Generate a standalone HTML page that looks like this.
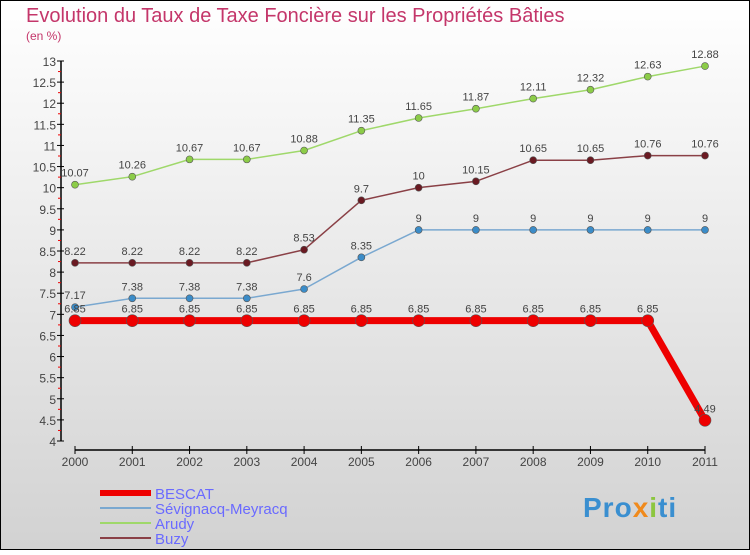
<!DOCTYPE html>
<html><head><meta charset="utf-8"><style>
body{margin:0}
#c{width:750px;height:550px;position:relative;font-family:"Liberation Sans",sans-serif;}
</style></head><body>
<div id="c">
<svg id="s" width="750" height="550" xmlns="http://www.w3.org/2000/svg">
<defs><linearGradient id="bg" x1="0" y1="0" x2="0" y2="1"><stop offset="0" stop-color="#ffffff"/><stop offset="1" stop-color="#d2d2d2"/></linearGradient></defs>
<rect x="0.5" y="0.5" width="749" height="549" fill="url(#bg)" stroke="#000"/>
<text x="26" y="22" font-size="20" fill="#c4366a">Evolution du Taux de Taxe Foncière sur les Propriétés Bâties</text>
<text x="26" y="40" font-size="12" fill="#c4366a">(en %)</text>
<g id="axes"></g><g id="series"></g><g id="legend"></g>
<g>
<text x="583" y="517" font-size="28" font-weight="bold" fill="#3a8fd0" letter-spacing="1">Pro<tspan fill="#f08a1c">x</tspan><tspan fill="#8cc63f">i</tspan>ti</text>
</g>
</svg></div>
<script>
const years=[2000,2001,2002,2003,2004,2005,2006,2007,2008,2009,2010,2011];
const bescat=[6.85,6.85,6.85,6.85,6.85,6.85,6.85,6.85,6.85,6.85,6.85,4.49];
const sevignacq=[7.17,7.38,7.38,7.38,7.6,8.35,9,9,9,9,9,9];
const arudy=[10.07,10.26,10.67,10.67,10.88,11.35,11.65,11.87,12.11,12.32,12.63,12.88];
const buzy=[8.22,8.22,8.22,8.22,8.53,9.7,10,10.15,10.65,10.65,10.76,10.76];
const yTicks=[4,4.5,5,5.5,6,6.5,7,7.5,8,8.5,9,9.5,10,10.5,11,11.5,12,12.5,13];
const NS="http://www.w3.org/2000/svg";
function x(i){return 75+i*(630/11);}
function y(v){return 441-(v-4)*(380/9);}
function mk(t,a,p){const e=document.createElementNS(NS,t);for(const k in a)e.setAttribute(k,a[k]);p.appendChild(e);return e;}
const ax=document.getElementById('axes');
let l=mk('line',{x1:61,y1:y(13),x2:61,y2:y(4),stroke:'#000','stroke-width':1.5},ax);


yTicks.forEach(v=>{
 mk('line',{x1:57,y1:y(v),x2:64,y2:y(v),stroke:'#000'},ax);
 mk('line',{x1:58,y1:y(v+0.25),x2:61,y2:y(v+0.25),stroke:v<13?'#e00':'none'},ax);
 const t=mk('text',{x:56,y:y(v)+5,'text-anchor':'end','font-size':12,fill:'#444'},ax);
 t.textContent=String(v);
 
 
});
l=mk('line',{x1:75,y1:450,x2:705,y2:450,stroke:'#000','stroke-width':1.5},ax);


years.forEach((yr,i)=>{
 mk('line',{x1:x(i),y1:446,x2:x(i),y2:454,stroke:'#000'},ax);
 const t=mk('text',{x:x(i),y:466,'text-anchor':'middle','font-size':12,fill:'#444'},ax);
 t.textContent=String(yr);
 
 
});
const sg=document.getElementById('series');
function series(vals,color,dot,w,r,name){
 const g=mk('g',{},sg);
 
 
 mk('polyline',{points:vals.map((v,i)=>x(i)+','+y(v)).join(' '),fill:'none',stroke:color,'stroke-width':w,'stroke-linejoin':'round'},g);
 vals.forEach((v,i)=>{
  const c=mk('circle',{cx:x(i),cy:y(v),r:r,fill:dot,stroke:'#555','stroke-width':0.6},g);
  
  
  const t=mk('text',{x:x(i),y:y(v)-8,'text-anchor':'middle','font-size':11,fill:'#444'},g);
  t.textContent=String(v);
  
  
 });
}
series(arudy,'#9fd86a','#8ccc48',1.5,3.5,'arudy');
series(buzy,'#8a4046','#6a1a22',1.5,3.5,'buzy');
series(sevignacq,'#7aa8d0','#3b8cc8',1.5,3.5,'sevignacq-meyracq');
series(bescat,'#ee0000','#ee0000',7,6,'bescat');
const lg=document.getElementById('legend');
const leg=[['BESCAT','#ee0000',6],['Sévignacq-Meyracq','#7aa8d0',2],['Arudy','#9fd86a',2],['Buzy','#8a4046',2]];
leg.forEach((e,i)=>{
 const g=mk('g',{},lg);
 
 
 const yy=493+i*15;
 mk('rect',{x:100,y:yy-e[2]/2,width:51,height:e[2],fill:e[1]},g);
 const t=mk('text',{x:155,y:yy+6,'font-size':15,fill:'#6a6aff'},g);
 t.textContent=e[0];
});
</script>
</body></html>
